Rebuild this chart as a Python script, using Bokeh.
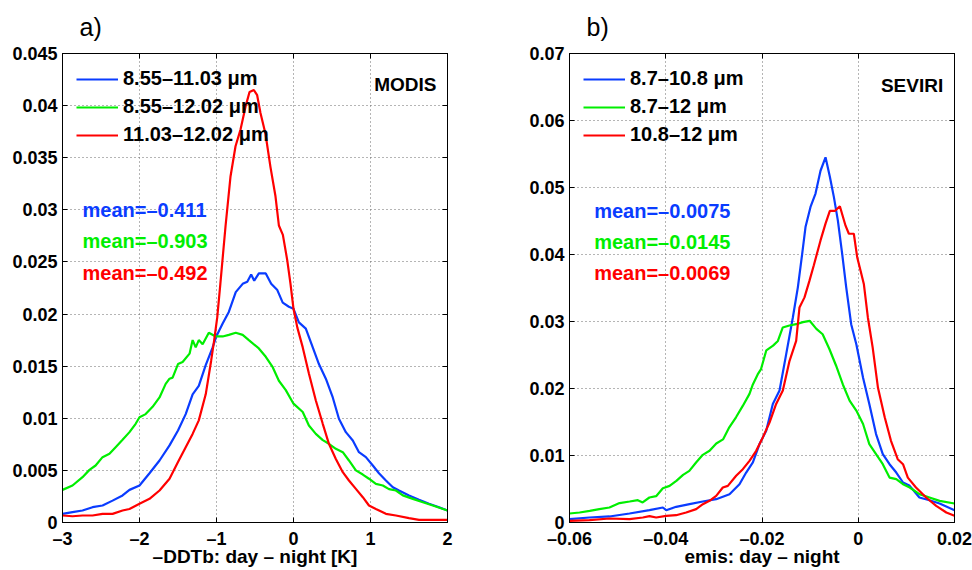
from bokeh.plotting import figure
from bokeh.models import Range1d, FixedTicker, LinearAxis, Label, Legend, LegendItem
from bokeh.layouts import row
from bokeh.embed import file_html
from bokeh.resources import INLINE

# ---------------- data: panel a) MODIS ----------------
modis_blue_x = [-3.00, -2.87, -2.74, -2.61, -2.48, -2.35, -2.22, -2.13, -2.00, -1.87, -1.74, -1.61, -1.50, -1.40,
                -1.31, -1.23, -1.14, -1.05, -1.00, -0.92, -0.84, -0.75, -0.66, -0.60, -0.55, -0.51, -0.45, -0.36,
                -0.29, -0.21, -0.14, -0.06, 0.00, 0.07, 0.16, 0.25, 0.33, 0.42, 0.51, 0.59, 0.68, 0.77, 0.85, 0.94,
                1.03, 1.11, 1.20, 1.29, 1.37, 1.50, 1.63, 1.76, 1.89, 2.00]
modis_blue_y = [0.00083, 0.00100, 0.00115, 0.00147, 0.00163, 0.00210, 0.00260, 0.00313, 0.00355, 0.00473, 0.00595,
                0.00740, 0.00883, 0.01040, 0.01230, 0.01310, 0.01510, 0.01680, 0.01790, 0.01910, 0.02020, 0.02210,
                0.02290, 0.02310, 0.02380, 0.02320, 0.02390, 0.02390, 0.02290, 0.02230, 0.02110, 0.02070, 0.02050,
                0.01920, 0.01860, 0.01680, 0.01520, 0.01380, 0.01200, 0.00995, 0.00867, 0.00787, 0.00675, 0.00627,
                0.00547, 0.00473, 0.00403, 0.00339, 0.00307, 0.00260, 0.00218, 0.00180, 0.00147, 0.00115]

modis_green_x = [-3.00, -2.87, -2.74, -2.65, -2.57, -2.48, -2.39, -2.31, -2.22, -2.13, -2.05, -2.00, -1.92, -1.83,
                 -1.74, -1.66, -1.61, -1.57, -1.50, -1.44, -1.35, -1.31, -1.27, -1.23, -1.18, -1.10, -1.01, -0.92,
                 -0.84, -0.75, -0.66, -0.58, -0.45, -0.36, -0.27, -0.19, -0.10, 0.00, 0.12, 0.20, 0.29, 0.38, 0.46,
                 0.55, 0.64, 0.72, 0.81, 0.90, 0.98, 1.07, 1.16, 1.24, 1.33, 1.42, 1.55, 1.68, 1.81, 2.00]
modis_green_y = [0.00313, 0.00355, 0.00435, 0.00505, 0.00547, 0.00627, 0.00660, 0.00723, 0.00793, 0.00867, 0.00947,
                 0.01010, 0.01040, 0.01110, 0.01200, 0.01330, 0.01380, 0.01390, 0.01520, 0.01540, 0.01620, 0.01750,
                 0.01680, 0.01750, 0.01710, 0.01820, 0.01785, 0.01785, 0.01800, 0.01820, 0.01800, 0.01750, 0.01670,
                 0.01590, 0.01490, 0.01360, 0.01270, 0.01140, 0.01060, 0.00930, 0.00850, 0.00790, 0.00755, 0.00707,
                 0.00675, 0.00595, 0.00500, 0.00460, 0.00420, 0.00370, 0.00355, 0.00320, 0.00307, 0.00260, 0.00227,
                 0.00195, 0.00163, 0.00115]

modis_red_x = [-3.00, -2.87, -2.74, -2.61, -2.48, -2.35, -2.22, -2.13, -2.00, -1.87, -1.74, -1.61, -1.50, -1.40,
               -1.31, -1.23, -1.14, -1.07, -1.03, -0.99, -0.95, -0.883, -0.818, -0.753, -0.688, -0.623, -0.571,
               -0.515, -0.472, -0.429, -0.364, -0.299, -0.234, -0.190, -0.138, -0.082, -0.039, 0.00, 0.05, 0.12,
               0.20, 0.29, 0.38, 0.46, 0.55, 0.64, 0.72, 0.81, 0.90, 0.98, 1.07, 1.20, 1.33, 1.50, 1.63, 1.81, 2.00]
modis_red_y = [0.00067, 0.00060, 0.00067, 0.00067, 0.00083, 0.00083, 0.00115, 0.00130, 0.00180, 0.00227, 0.00307,
               0.00420, 0.00580, 0.00723, 0.00850, 0.00980, 0.01230, 0.01550, 0.01750, 0.01970, 0.02290, 0.02840,
               0.03320, 0.03610, 0.03770, 0.03990, 0.04130, 0.04150, 0.04100, 0.03930, 0.03730, 0.03410, 0.03130,
               0.02850, 0.02760, 0.02520, 0.02290, 0.02050, 0.01870, 0.01680, 0.01430, 0.01170, 0.00947, 0.00755,
               0.00610, 0.00483, 0.00403, 0.00323, 0.00243, 0.00163, 0.00130, 0.00083, 0.00067, 0.00042, 0.00026,
               0.00026, 0.00026]

modis_labels = ["8.55\u201311.03 \u03bcm", "8.55\u201312.02 \u03bcm", "11.03\u201312.02 \u03bcm"]
modis_means = ["mean=\u20130.411", "mean=\u20130.903", "mean=\u20130.492"]
modis_xticks = [-3, -2, -1, 0, 1, 2]
modis_xtick_labels = ["\u20133", "\u20132", "\u20131", "0", "1", "2"]
modis_yticks = [0, 0.005, 0.01, 0.015, 0.02, 0.025, 0.03, 0.035, 0.04, 0.045]
modis_ytick_labels = ["0", "0.005", "0.01", "0.015", "0.02", "0.025", "0.03", "0.035", "0.04", "0.045"]

# ---------------- data: panel b) SEVIRI ----------------
seviri_blue_x = [-0.0600, -0.05584, -0.05169, -0.04753, -0.04338, -0.0406, -0.03991, -0.03784, -0.03506, -0.03229,
                 -0.02952, -0.02675, -0.02468, -0.02329, -0.02190, -0.02052, -0.01913, -0.01775, -0.01636, -0.01498,
                 -0.01359, -0.01255, -0.01165, -0.01096, -0.00992, -0.00888, -0.00784, -0.00680, -0.00590, -0.00507,
                 -0.00424, -0.00334, -0.00250, -0.00147, -0.00040, 0.0010, 0.0023, 0.0037, 0.0051, 0.0065, 0.0079,
                 0.0093, 0.0107, 0.0127, 0.0148, 0.0169, 0.0200]
seviri_blue_y = [0.00050, 0.00075, 0.00090, 0.00134, 0.00184, 0.00224, 0.00184, 0.00234, 0.00274, 0.00313, 0.00348,
                 0.00423, 0.00572, 0.00746, 0.00896, 0.01170, 0.01370, 0.01770, 0.01970, 0.02510, 0.03060, 0.03510,
                 0.04010, 0.04410, 0.04710, 0.04910, 0.05250, 0.05450, 0.05160, 0.04860, 0.04510, 0.04010, 0.03510,
                 0.02960, 0.02660, 0.02160, 0.01770, 0.01320, 0.01020, 0.00870, 0.00746, 0.00597, 0.00547, 0.00373,
                 0.00333, 0.00284, 0.00184]

seviri_green_x = [-0.0600, -0.0579, -0.0558, -0.0538, -0.0517, -0.0496, -0.0475, -0.0458, -0.0448, -0.0434, -0.0420,
                  -0.0406, -0.0392, -0.0378, -0.0364, -0.0351, -0.0337, -0.0323, -0.0309, -0.0295, -0.0281, -0.0268,
                  -0.0254, -0.0240, -0.0226, -0.0219, -0.0209, -0.0202, -0.0191, -0.0177, -0.0167, -0.0157, -0.0143,
                  -0.0129, -0.0115, -0.0101, -0.0087, -0.0074, -0.0060, -0.0046, -0.0032, -0.0018, -0.0004, 0.0010,
                  0.0023, 0.0037, 0.0051, 0.0065, 0.0079, 0.0093, 0.0107, 0.0127, 0.0148, 0.0169, 0.0200]
seviri_green_y = [0.00134, 0.00149, 0.00174, 0.00200, 0.00224, 0.00290, 0.00313, 0.00333, 0.00300, 0.00373, 0.00393,
                  0.00512, 0.00547, 0.00622, 0.00711, 0.00771, 0.00896, 0.01010, 0.01070, 0.01180, 0.01240, 0.01420,
                  0.01570, 0.01740, 0.01920, 0.02060, 0.02210, 0.02290, 0.02570, 0.02640, 0.02710, 0.02910, 0.02940,
                  0.02960, 0.02990, 0.03010, 0.02890, 0.02810, 0.02590, 0.02340, 0.02060, 0.01820, 0.01670, 0.01470,
                  0.01170, 0.01020, 0.00870, 0.00670, 0.00647, 0.00572, 0.00522, 0.00423, 0.00373, 0.00323, 0.00284]

seviri_red_x = [-0.0600, -0.05584, -0.05169, -0.04753, -0.04476, -0.04338, -0.04199, -0.03991, -0.03784, -0.03576,
                -0.03368, -0.03229, -0.03091, -0.02952, -0.02814, -0.02710, -0.02537, -0.02398, -0.02260, -0.02121,
                -0.01983, -0.01844, -0.01706, -0.01567, -0.01429, -0.01290, -0.01221, -0.01117, -0.01013, -0.00923,
                -0.00784, -0.00680, -0.00590, -0.00486, -0.00382, -0.00264, -0.00195, -0.00092, -0.00022, 0.00047,
                0.00116, 0.0020, 0.0030, 0.0041, 0.0055, 0.0068, 0.0082, 0.0093, 0.0103, 0.0120, 0.0141, 0.0162,
                0.0183, 0.0200]
seviri_red_y = [0.00025, 0.00035, 0.00060, 0.00050, 0.00075, 0.00095, 0.00075, 0.00100, 0.00109, 0.00149, 0.00200,
                0.00274, 0.00323, 0.00398, 0.00522, 0.00547, 0.00697, 0.00796, 0.00920, 0.01070, 0.01270, 0.01490,
                0.01770, 0.01970, 0.02410, 0.02710, 0.03210, 0.03360, 0.03610, 0.03840, 0.04210, 0.04460, 0.04650,
                0.04650, 0.04720, 0.04430, 0.04310, 0.04310, 0.03960, 0.03760, 0.03560, 0.03060, 0.02610, 0.02010,
                0.01570, 0.01220, 0.00945, 0.00870, 0.00670, 0.00522, 0.00373, 0.00249, 0.00149, 0.00100]

seviri_labels = ["8.7\u201310.8 \u03bcm", "8.7\u201312 \u03bcm", "10.8\u201312 \u03bcm"]
seviri_means = ["mean=\u20130.0075", "mean=\u20130.0145", "mean=\u20130.0069"]
seviri_xticks = [-0.06, -0.04, -0.02, 0, 0.02]
seviri_xtick_labels = ["\u20130.06", "\u20130.04", "\u20130.02", "0", "0.02"]
seviri_yticks = [0, 0.01, 0.02, 0.03, 0.04, 0.05, 0.06, 0.07]
seviri_ytick_labels = ["0", "0.01", "0.02", "0.03", "0.04", "0.05", "0.06", "0.07"]

FONT = "Liberation Sans"
COLORS = ["#0a3cff", "#00ee00", "#ff0000"]


def make_panel(xr, yr, series, labels, means, xticks, xtl, yticks, ytl,
               xlabel, tag, inst, width, bl, br, pos):
    p = figure(width=width, height=570, x_range=Range1d(*xr), y_range=Range1d(*yr),
               output_backend="svg", toolbar_location=None,
               min_border_left=bl, min_border_right=br, min_border_top=0, min_border_bottom=48)
    p.outline_line_color = "black"
    p.outline_line_width = 1
    p.background_fill_color = "white"
    p.border_fill_color = "white"

    # title tag a) / b); its standoff sets the space above the frame
    p.title.text = tag
    p.title.align = "left"
    p.title.vertical_align = "middle"
    p.title.offset = 17
    p.title.text_font = FONT
    p.title.text_font_size = "25px"
    p.title.text_font_style = "normal"
    p.title.text_color = "black"
    p.title.standoff = 23

    for ax, ticks, tl in ((p.xaxis[0], xticks, xtl), (p.yaxis[0], yticks, ytl)):
        ax.ticker = FixedTicker(ticks=ticks)
        ax.major_label_overrides = dict(zip(ticks, tl))
        ax.major_tick_in = 5
        ax.major_tick_out = 0
        ax.minor_tick_line_color = None
        ax.axis_line_color = "black"
        ax.major_tick_line_color = "black"
        ax.major_label_text_font = FONT
        ax.major_label_text_font_style = "bold"
        ax.major_label_text_font_size = "18px"
        ax.major_label_text_color = "black"
        ax.major_label_standoff = 6
    p.yaxis[0].major_label_standoff = 5

    xa = p.xaxis[0]
    xa.axis_label = xlabel
    xa.axis_label_text_font = FONT
    xa.axis_label_text_font_style = "bold"
    xa.axis_label_text_font_size = "19px"
    xa.axis_label_text_color = "black"
    xa.axis_label_standoff = -6

    for loc, ticks in (("right", yticks), ("above", xticks)):
        ax = LinearAxis(ticker=FixedTicker(ticks=ticks), major_label_text_font_size="1px",
                        major_label_text_color=None,
                        major_tick_in=5, major_tick_out=0, minor_tick_line_color=None,
                        major_label_standoff=0, axis_line_color="black")
        p.add_layout(ax, loc)

    p.xgrid.ticker = FixedTicker(ticks=xticks)
    p.ygrid.ticker = FixedTicker(ticks=yticks)
    p.grid.grid_line_color = "#6a6a6a"
    p.grid.grid_line_dash = "1 3"
    p.grid.grid_line_width = 1

    items = []
    for (xs, ys), c, lab in zip(series, COLORS, labels):
        r = p.line(xs, ys, line_color=c, line_width=2.2)
        items.append(LegendItem(label=lab, renderers=[r]))

    leg = Legend(items=items, location="top_left", margin=12, padding=2, spacing=5,
                 glyph_width=42, glyph_height=20, label_height=20, label_standoff=5,
                 label_text_font=FONT, label_text_font_style="bold", label_text_font_size="20px",
                 label_text_color="black",
                 border_line_alpha=0, background_fill_alpha=0)
    p.add_layout(leg)

    # instrument name (right aligned) and mean texts
    p.add_layout(Label(x=pos["inst_x"], y=pos["inst_y"], text=inst, text_font=FONT, text_color="black",
                       text_font_style="bold", text_font_size="19px", text_align="right",
                       text_baseline="middle"))
    for m, c, yy in zip(means, COLORS, pos["mean_y"]):
        p.add_layout(Label(x=pos["mean_x"], y=yy, text=m, text_font=FONT, text_color=c,
                           text_font_style="bold", text_font_size="20px", text_align="left",
                           text_baseline="middle"))
    return p


pa = make_panel((-3, 2), (0, 0.045),
                [(modis_blue_x, modis_blue_y), (modis_green_x, modis_green_y), (modis_red_x, modis_red_y)],
                modis_labels, modis_means, modis_xticks, modis_xtick_labels, modis_yticks, modis_ytick_labels,
                "\u2013DDTb: day \u2013 night [K]", "a)", "MODIS", 508, 62, 61,
                dict(inst_x=1.857, inst_y=0.0420, mean_x=-2.74, mean_y=[0.02994, 0.02697, 0.02396]))

pb = make_panel((-0.06, 0.02), (0, 0.07),
                [(seviri_blue_x, seviri_blue_y), (seviri_green_x, seviri_green_y), (seviri_red_x, seviri_red_y)],
                seviri_labels, seviri_means, seviri_xticks, seviri_xtick_labels, seviri_yticks, seviri_ytick_labels,
                "emis: day \u2013 night", "b)", "SEVIRI", 464, 61, 18,
                dict(inst_x=0.01765, inst_y=0.06528, mean_x=-0.05487, mean_y=[0.04652, 0.04190, 0.03722]))

layout = row(pa, pb)
open("out.html", "w").write(file_html(layout, INLINE))
